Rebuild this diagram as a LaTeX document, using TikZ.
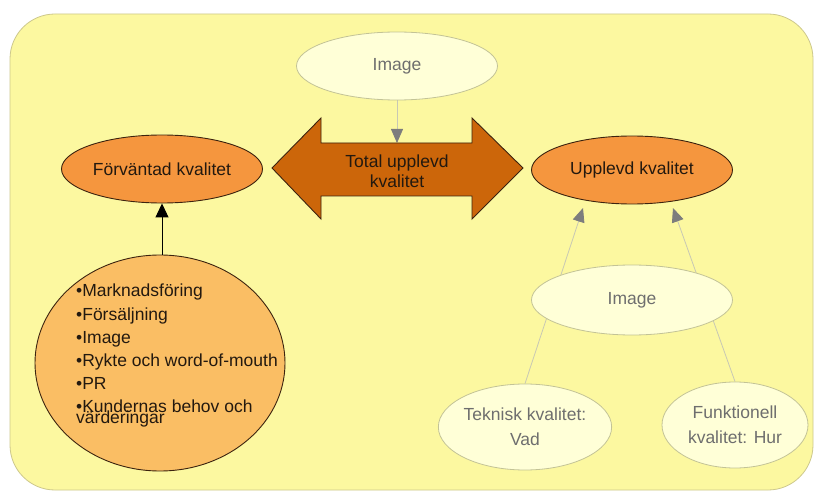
\documentclass[tikz,border=0pt]{standalone}
\usepackage{fontspec}
\setmainfont{Liberation Sans}
\usetikzlibrary{arrows.meta,shapes.geometric}
\definecolor{bgfill}{RGB}{252,248,160}
\definecolor{bgline}{RGB}{205,200,140}
\definecolor{orfill}{RGB}{245,150,62}
\definecolor{arfill}{RGB}{204,102,10}
\definecolor{lsfill}{RGB}{250,190,100}
\definecolor{ltfill}{RGB}{255,255,215}
\definecolor{ltline}{RGB}{195,195,150}
\definecolor{edgegray}{RGB}{200,200,180}
\definecolor{tipgray}{RGB}{125,125,125}
\definecolor{txtgray}{RGB}{110,110,110}
\definecolor{darkline}{RGB}{60,35,15}
\definecolor{darktext}{RGB}{35,25,15}
\pgfdeclarelayer{backmost}
\pgfdeclarelayer{edges}
\pgfsetlayers{backmost,edges,main}
\tikzset{
  orell/.style={ellipse, draw=darkline, line width=0.9pt, fill=orfill, inner sep=0pt,
    minimum width=201pt, minimum height=68pt, text=darktext},
  ltell/.style={ellipse, draw=ltline, line width=0.8pt, fill=ltfill, inner sep=0pt,
    text=txtgray, align=center},
  listline/.style={anchor=base west, inner sep=0pt, text=darktext},
  grayedge/.style={draw=edgegray, line width=0.8pt,
    -{Triangle[length=14pt,width=12pt,fill=tipgray,color=tipgray]}},
  blackedge/.style={draw=black, line width=1pt, -{Triangle[length=14pt,width=13pt]}},
}
\begin{document}
\begin{tikzpicture}[x=1pt,y=-1pt,font=\fontsize{17.5}{21}\selectfont]
\useasboundingbox (0,0) rectangle (815,492);
\begin{pgfonlayer}{backmost}
\fill[white] (0,0) rectangle (815,492);
\draw[draw=bgline, line width=0.8pt, fill=bgfill, rounded corners=45pt] (10,14) rectangle (813,490);
\end{pgfonlayer}

% double arrow
\draw[fill=arfill, draw=darkline, line width=0.9pt, line join=miter]
  (272,168) -- (321,118) -- (321,143) -- (472,143) -- (472,118) -- (523,168)
  -- (472,219) -- (472,196) -- (321,196) -- (321,219) -- cycle;
\node[align=center, text=darktext, font=\fontsize{17.5}{20}\selectfont] (total) at (397,171) {Total upplevd\\kvalitet};
\coordinate (dtop) at (397,143);

% nodes
\node[ltell, minimum width=201pt, minimum height=68pt] (img1) at (397,66) {Image};
\node[orell] (forv) at (162,169) {Förväntad kvalitet};
\node[orell] (uppl) at (632,170) {Upplevd kvalitet};
\node[ellipse, draw=darkline, line width=0.9pt, fill=lsfill, minimum width=250pt, minimum height=216pt] (list) at (160,363) {};
\node[ltell, minimum width=201pt, minimum height=70pt] (img2) at (632,300) {Image};
\node[ltell, minimum width=146pt, minimum height=86pt, font=\fontsize{17.5}{25}\selectfont] (tek) at (525,427) {Teknisk kvalitet:\\Vad};
\node[ltell, minimum width=146pt, minimum height=86pt, font=\fontsize{17.5}{25}\selectfont] (fun) at (735,425) {Funktionell\\kvalitet: Hur};

% list text
\node[listline] (l1) at (76,297) {•Marknadsföring};
\node[listline] (l2) at (76,320) {•Försäljning};
\node[listline] (l3) at (76,343) {•Image};
\node[listline] (l4) at (76,366) {•Rykte och word-of-mouth};
\node[listline] (l5) at (76,389) {•PR};
\node[listline] (l6) at (76,412) {•Kundernas behov och};
\node[listline] (l7) at (76,423) {värderingar};

% connectors
\coordinate (tipL) at (583,208);
\coordinate (tipR) at (673,208);
\begin{pgfonlayer}{edges}
\draw[grayedge] (img1) -- (dtop);
\draw[grayedge] (tek.north) -- (tipL);
\draw[grayedge] (fun.north) -- (tipR);
\end{pgfonlayer}
\draw[blackedge] (list.north -| forv.south) -- (forv.south);
\end{tikzpicture}
\end{document}
